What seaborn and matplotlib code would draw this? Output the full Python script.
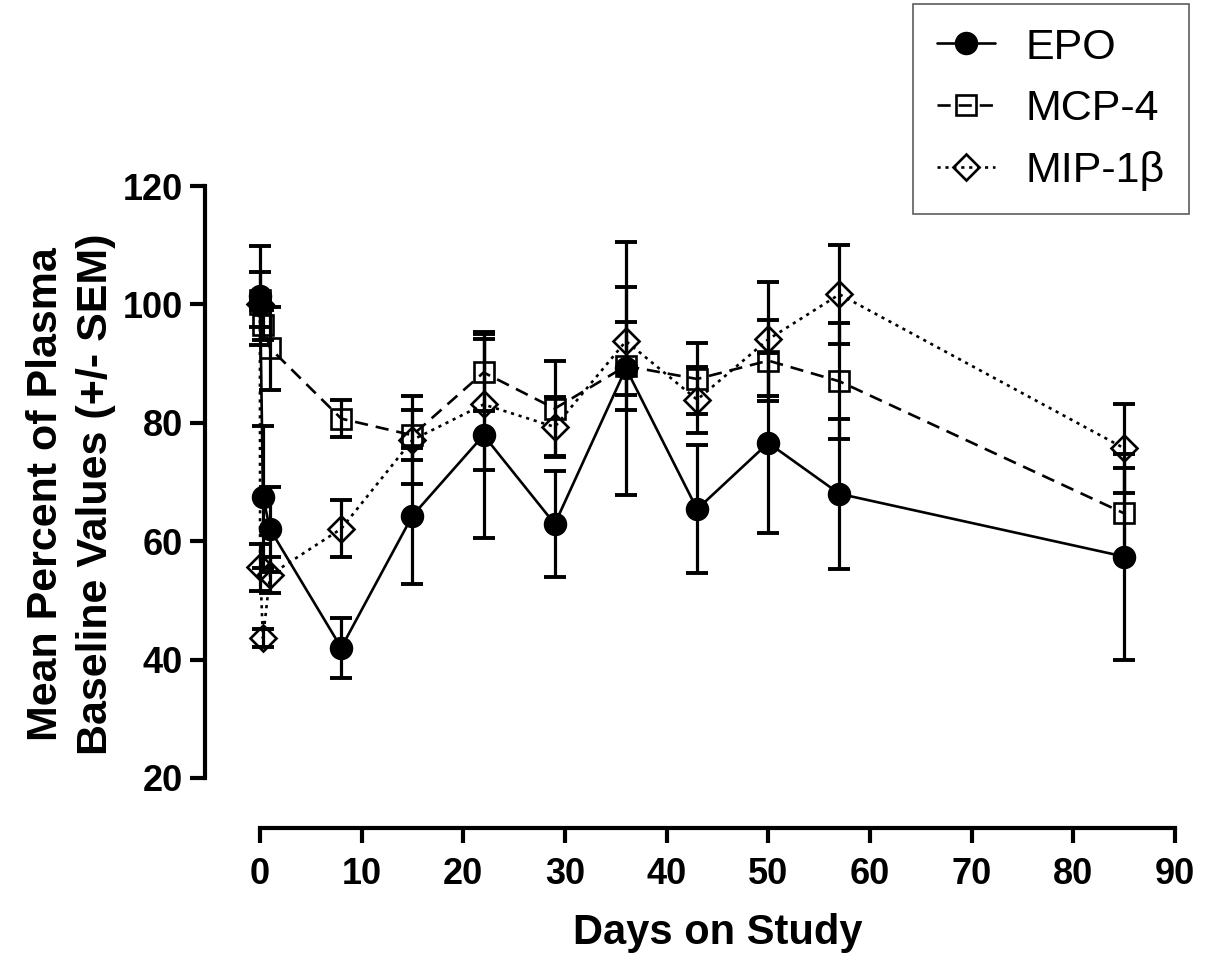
import matplotlib
matplotlib.use("Agg")
import matplotlib.pyplot as plt
import seaborn as sns
import pandas as pd

# Days on study (first four points cluster around day 0)
days = [0, 0.02, 0.3, 1, 8, 15, 22, 29, 36, 43, 50, 57, 85]

# Mean percent of plasma baseline values
epo = [100, 101.5, 67.5, 62.0, 42.0, 64.3, 77.9, 62.9, 89.2, 65.4, 76.6, 68.0, 57.4]
mcp4 = [100, 100.8, 96.5, 92.6, 80.7, 77.9, 88.5, 82.4, 89.6, 87.4, 90.5, 87.0, 64.7]
mip1b = [100, 55.6, 43.6, 54.3, 62.1, 77.1, 83.1, 79.3, 93.8, 83.9, 94.1, 101.7, 75.7]

# SEM
epo_sem = [0, 8.4, 12.0, 7.2, 5.1, 11.5, 17.4, 9.0, 21.4, 10.8, 15.2, 12.7, 17.4]
mcp4_sem = [0, 4.6, 2.5, 7.0, 3.1, 4.2, 6.5, 8.0, 7.5, 6.0, 6.8, 9.8, 7.6]
mip1b_sem = [0, 4.0, 1.5, 3.0, 4.8, 7.4, 11.0, 5.1, 9.1, 5.6, 9.6, 8.4, 7.5]

sns.set_theme(style="ticks")
plt.rcParams['font.family'] = ['Liberation Sans', 'DejaVu Sans']
plt.rcParams['text.color'] = 'black'
plt.rcParams['axes.labelcolor'] = 'black'
plt.rcParams['xtick.color'] = 'black'
plt.rcParams['ytick.color'] = 'black'

fig = plt.figure(figsize=(12.08, 9.63), dpi=100)
ax = fig.add_axes([0.1697, 0.1402, 0.8030, 0.6937])

series = [
    ("EPO", epo, epo_sem, "o", "-", "black", 15),
    ("MCP-4", mcp4, mcp4_sem, "s", (0, (5, 3)), "none", 15),
    ("MIP-1\u03b2", mip1b, mip1b_sem, "D", (0, (1.2, 1.8)), "none", 13.5),
]

for name, vals, sem, mk, ls, fc, ms in series:
    df = pd.DataFrame({"day": days, "value": vals})
    ax.errorbar(days, vals, yerr=sem, fmt="none", ecolor="black",
                elinewidth=2.3, capsize=8, capthick=2.8, zorder=2)
    sns.lineplot(data=df, x="day", y="value", ax=ax, sort=False,
                 errorbar=None, label=name, color="black", linestyle=ls,
                 linewidth=1.9, marker=mk, markersize=ms,
                 markerfacecolor=fc, markeredgecolor="black",
                 markeredgewidth=1.9, zorder=3)

ax.set_xlim(-5.4, 90)
ax.set_ylim(11.55, 124.4)
ax.set_xticks(range(0, 91, 10))
ax.set_yticks(range(20, 121, 20))

for side in ["top", "right"]:
    ax.spines[side].set_visible(False)
ax.spines["left"].set_bounds(20, 120)
ax.spines["bottom"].set_bounds(0, 90)
for side in ["left", "bottom"]:
    ax.spines[side].set_linewidth(3)
    ax.spines[side].set_color("black")

ax.tick_params(axis="both", direction="out", length=11, width=3,
               color="black", labelsize=26)
ax.tick_params(axis="x", pad=10)
ax.tick_params(axis="y", pad=5)
for lab in ax.get_xticklabels() + ax.get_yticklabels():
    lab.set_fontweight("bold")

ax.set_xlabel("Days on Study", fontsize=30, fontweight="bold")
ax.xaxis.set_label_coords((45 + 5.4) / 95.4, -0.128)
ax.set_ylabel("Mean Percent of Plasma\nBaseline Values (+/- SEM)",
              fontsize=31, fontweight="bold", linespacing=1.3)
ax.yaxis.set_label_coords(-0.092, (68 - 11.55) / (124.4 - 11.55))

handles, labels = ax.get_legend_handles_labels()
ax.get_legend().remove()
leg = fig.legend(handles, labels, loc="upper right",
                 bbox_to_anchor=(0.984, 0.996), fontsize=31,
                 frameon=True, fancybox=False, edgecolor="#333333",
                 handlelength=1.35, handletextpad=0.72, labelspacing=0.5,
                 borderpad=0.55, borderaxespad=0)
leg.get_frame().set_linewidth(1.2)

fig.savefig("out.png", dpi=100)
